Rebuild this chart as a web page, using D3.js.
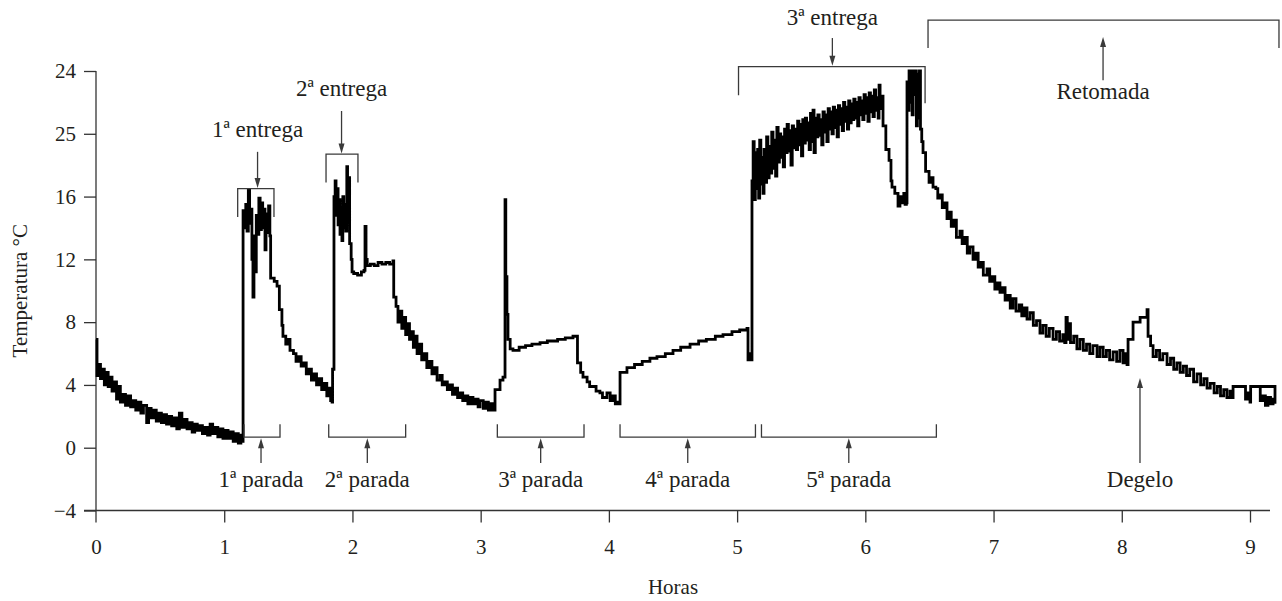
<!DOCTYPE html>
<html>
<head>
<meta charset="utf-8">
<script src="https://cdn.jsdelivr.net/npm/d3@7/dist/d3.min.js"></script>
<style>
  html, body { margin: 0; padding: 0; background: #fff; }
  svg { display: block; }
  text { font-family: "Liberation Serif", "DejaVu Serif", serif; fill: #231f20; }
</style>
</head>
<body>
<svg id="chart" width="1282" height="601"></svg>
<script>
// ---------------- DATA ----------------
const xTicks = [0, 1, 2, 3, 4, 5, 6, 7, 8, 9];
const yTicks = [-4, 0, 4, 8, 12, 16, 20, 24];
const yTickLabels = ["\u22124", "0", "4", "8", "12", "16", "25", "24"];

const hours = [
  0.000,0.008,0.020,0.035,0.050,0.065,0.080,0.095,0.110,0.125,0.140,0.160,0.175,0.190,0.210,0.230,0.250,0.270,0.290,0.310,
  0.330,0.350,0.370,0.395,0.410,0.430,0.450,0.470,0.490,0.510,0.530,0.550,0.570,0.590,0.610,0.630,0.650,0.670,0.690,0.710,
  0.730,0.750,0.770,0.790,0.810,0.830,0.850,0.870,0.890,0.910,0.930,0.950,0.970,0.990,1.010,1.030,1.050,1.070,1.090,1.110,
  1.130,1.145,
  1.147,1.158,1.168,1.178,1.188,1.198,1.208,1.216,1.224,1.232,1.240,1.250,1.260,1.270,1.280,1.290,1.300,1.310,1.318,1.326,
  1.336,1.346,1.356,1.362,1.390,1.412,1.430,1.450,1.458,1.480,1.500,1.513,1.540,1.560,1.580,1.600,1.620,1.640,1.660,1.680,
  1.700,1.720,1.740,1.760,1.780,1.800,1.815,1.830,1.841,
  1.845,1.852,1.856,1.865,1.872,1.880,1.888,1.895,1.903,1.910,1.918,1.925,1.932,1.940,1.948,1.956,1.962,1.970,1.978,1.990,
  1.997,2.010,2.040,2.070,2.090,2.098,2.106,2.115,2.140,2.170,2.200,2.230,2.260,2.290,2.316,2.322,2.340,2.355,2.371,2.385,
  2.400,2.415,2.430,2.445,2.460,2.475,2.490,2.504,2.520,2.540,2.560,2.580,2.600,2.620,2.640,2.660,2.683,2.700,2.720,2.740,
  2.760,2.780,2.800,2.820,2.839,2.860,2.880,2.900,2.920,2.940,2.960,2.980,2.995,3.020,3.040,3.060,3.080,3.096,3.112,3.151,
  3.174,3.190,3.196,3.205,3.213,3.230,3.252,3.300,3.350,3.400,3.463,3.520,3.600,3.660,3.720,3.748,3.755,3.780,3.798,3.830,
  3.850,3.876,3.900,3.930,3.950,3.985,4.010,4.030,4.050,4.063,4.075,4.087,4.141,4.200,4.260,4.320,4.375,4.440,4.500,4.560,
  4.633,4.700,4.760,4.830,4.890,4.960,5.020,5.077,5.085,5.100,5.110,
  5.116,5.125,5.133,5.142,5.150,5.160,5.168,5.176,5.185,5.194,5.202,5.210,5.220,5.230,5.240,5.250,5.260,5.270,5.280,5.290,
  5.300,5.310,5.320,5.330,5.340,5.350,5.360,5.370,5.380,5.390,5.400,5.410,5.420,5.430,5.440,5.452,5.462,5.472,5.482,5.492,
  5.502,5.512,5.522,5.532,5.542,5.552,5.562,5.572,5.582,5.592,5.600,5.610,5.620,5.630,5.640,5.650,5.660,5.670,5.680,5.690,
  5.700,5.710,5.720,5.730,5.740,5.750,5.760,5.770,5.780,5.790,5.800,5.810,5.820,5.830,5.840,5.850,5.860,5.870,5.880,5.890,
  5.900,5.910,5.920,5.930,5.940,5.950,5.960,5.970,5.980,5.990,6.000,6.010,6.020,6.030,6.040,6.050,6.060,6.070,6.080,6.090,
  6.100,6.107,6.115,6.125,6.138,6.160,6.185,6.200,6.208,6.230,6.255,6.270,6.285,6.300,6.310,6.320,6.325,6.333,6.341,6.349,
  6.357,6.365,6.373,6.381,6.390,6.398,6.406,6.414,6.422,6.430,6.440,6.450,6.470,6.497,6.510,6.528,6.550,6.565,6.583,6.600,
  6.620,6.637,6.655,6.670,6.690,6.710,6.738,6.755,6.775,6.795,6.815,6.840,6.860,6.880,6.900,6.920,6.949,6.970,6.990,7.010,
  7.030,7.050,7.070,7.090,7.110,7.130,7.152,7.175,7.200,7.220,7.240,7.261,7.285,7.310,7.335,7.362,7.385,7.410,7.435,7.464,
  7.490,7.515,7.540,7.555,7.565,7.575,7.585,7.600,7.625,7.650,7.674,7.700,7.725,7.750,7.775,7.807,7.830,7.855,7.880,7.905,
  7.932,7.960,7.985,8.010,8.030,8.041,8.049,8.088,8.143,8.197,8.205,8.225,8.244,8.270,8.295,8.320,8.353,8.380,8.405,8.430,
  8.455,8.480,8.505,8.530,8.560,8.587,8.615,8.640,8.665,8.690,8.720,8.745,8.770,8.795,8.820,8.844,8.866,8.868,8.960,8.965,
  8.985,9.000,9.005,9.075,9.080,9.100,9.120,9.140,9.160,9.180,9.195,9.195,9.080
];
const temps = [
  6.9,4.6,5.3,4.4,5.0,4.0,4.8,3.9,4.5,3.6,4.2,3.1,3.9,2.9,3.4,2.7,3.3,2.6,3.0,2.4,
  2.9,2.2,2.7,1.6,2.5,1.9,2.4,1.7,2.2,1.6,2.1,1.5,2.0,1.4,1.9,1.2,2.2,1.3,1.8,1.2,
  1.6,1.0,1.5,1.1,1.4,0.9,1.3,0.8,1.5,0.9,1.3,0.7,1.2,0.6,1.1,0.6,1.0,0.4,0.9,0.3,
  0.8,0.4,
  15.1,14.0,15.5,13.8,16.4,14.3,15.2,12.0,9.6,13.5,11.2,14.8,13.6,15.9,13.9,15.6,14.0,15.2,12.6,14.9,
  13.7,15.4,13.5,10.8,10.6,10.3,8.8,7.8,7.1,6.6,6.9,6.2,6.0,5.5,5.8,5.2,5.4,4.7,5.0,4.3,
  4.7,4.0,4.4,3.7,4.1,3.3,3.8,3.0,2.9,
  5.0,5.0,16.0,17.0,14.8,16.5,14.2,15.8,13.6,15.2,13.2,16.0,14.0,15.5,13.8,17.9,14.5,17.2,13.0,12.0,
  11.2,11.1,11.0,11.2,11.3,14.1,12.0,11.6,11.7,11.6,11.8,11.7,11.8,11.7,11.9,9.6,9.0,8.0,8.7,7.6,
  8.3,7.2,7.9,6.9,7.4,6.4,7.1,6.0,6.6,5.6,6.0,5.1,5.5,4.7,5.1,4.3,4.6,4.0,4.2,3.7,
  4.0,3.4,3.8,3.2,3.5,3.0,3.3,2.8,3.2,2.8,3.1,2.6,3.0,2.5,2.9,2.4,2.8,2.4,3.7,4.3,
  4.5,15.8,10.9,8.5,6.9,6.3,6.2,6.4,6.5,6.6,6.7,6.8,6.9,7.0,7.1,7.1,5.4,4.8,4.5,4.2,
  3.9,3.9,3.6,3.5,3.2,3.5,3.0,3.3,2.8,2.9,2.8,4.8,5.1,5.3,5.5,5.7,5.8,6.0,6.2,6.4,
  6.6,6.8,6.9,7.1,7.2,7.4,7.5,7.6,5.6,6.0,5.6,
  17.0,19.5,15.8,18.8,16.5,19.0,15.9,19.6,16.8,18.5,16.2,19.0,16.9,19.8,17.2,19.2,17.5,20.1,17.8,19.6,
  17.3,20.4,18.2,20.0,18.5,19.8,17.9,20.3,18.8,20.6,18.9,20.2,18.0,20.5,19.1,20.3,19.0,20.8,19.3,20.6,
  18.6,20.9,19.4,21.0,19.6,20.7,19.0,21.3,19.5,21.5,18.8,21.0,19.8,21.2,19.9,20.9,19.3,21.4,20.1,21.2,
  19.5,21.6,20.3,21.4,20.0,21.7,20.4,21.5,19.8,21.8,20.6,21.6,20.2,22.0,20.8,21.7,20.3,22.1,20.7,21.9,
  20.9,22.2,21.0,22.0,20.5,22.3,21.2,22.1,20.9,22.5,21.3,22.3,20.8,22.6,21.4,22.4,21.1,22.8,21.5,22.3,
  21.0,23.1,21.6,22.4,20.5,19.0,18.3,17.0,16.6,16.2,15.4,16.0,15.6,16.2,15.5,15.6,23.3,21.5,24.0,22.0,
  24.0,21.2,24.0,22.5,24.0,20.5,23.8,21.0,24.0,20.3,19.5,18.8,17.6,16.9,17.2,16.6,16.5,15.9,16.1,15.3,
  15.6,14.6,15.0,14.1,14.5,13.4,13.8,13.0,13.4,12.4,12.8,12.0,12.4,11.5,11.8,11.0,11.4,10.6,10.9,10.1,
  10.5,9.9,10.2,9.4,9.7,8.9,9.5,8.7,9.1,8.4,8.9,8.2,8.6,7.8,8.1,7.3,7.8,7.1,7.6,6.9,
  7.4,6.8,7.2,6.7,8.3,6.9,7.9,6.7,7.1,6.3,6.9,6.2,6.6,6.0,6.5,5.8,6.4,5.8,6.2,5.6,
  6.1,5.5,6.2,5.4,6.0,5.3,6.9,8.0,8.3,8.8,7.1,6.5,5.8,6.2,5.6,6.0,5.3,5.7,5.0,5.4,
  4.8,5.2,4.6,5.0,4.2,4.7,4.0,4.4,3.8,4.1,3.5,3.9,3.3,3.7,3.2,3.6,3.2,3.9,3.9,3.1,
  3.5,2.9,3.9,3.9,3.0,3.3,2.7,3.2,2.8,3.1,2.8,3.9,3.9
];

const entregaLabels = ["1\u00aa entrega", "2\u00aa entrega", "3\u00aa entrega"];
const paradaLabels = ["1\u00aa parada", "2\u00aa parada", "3\u00aa parada", "4\u00aa parada", "5\u00aa parada"];
const otherLabels = ["Retomada", "Degelo"];
const xTitle = "Horas";
const yTitle = "Temperatura \u00b0C";

// ---------------- CHART ----------------
const svg = d3.select("#chart");
const x = d3.scaleLinear().domain([0, 9.156]).range([96, 1270]);
const y = d3.scaleLinear().domain([-4, 24]).range([510.5, 71]);

const TICK_FONT = 21;
const TITLE_FONT = 21;
const ANNO_FONT = 23;
const ink = "#231f20";
const annoColor = "#3a3a3a";

// axes
const xAxis = d3.axisBottom(x).tickValues(xTicks).tickSize(12).tickPadding(17).tickFormat(d3.format("d"));
const gx = svg.append("g").attr("transform", `translate(0,${y(-4)})`).call(xAxis);

const yAxis = d3.axisLeft(y).tickValues(yTicks).tickSize(12).tickPadding(8)
  .tickFormat((d, i) => yTickLabels[i]);
const gy = svg.append("g").attr("transform", `translate(${x(0)},0)`).call(yAxis);
gy.select(".domain").attr("d", `M0,${y(24)}V${y(-4) + 12}`);
gx.select(".domain").attr("d", `M${-12 + x(0)},0H${x.range()[1]}`);

[gx, gy].forEach(g => {
  g.selectAll(".domain, .tick line").attr("stroke", "#333").attr("stroke-width", 1.3);
  g.selectAll("text").style("font-size", TICK_FONT + "px").attr("fill", ink);
});
gx.selectAll(".tick").filter(d => d === 0).select("line").remove();

// axis titles
svg.append("text").attr("x", (x(0) + x.range()[1]) / 2 - 10).attr("y", 594)
  .attr("text-anchor", "middle").style("font-size", TITLE_FONT + "px").text(xTitle);
svg.append("text").attr("transform", `translate(27,${(y(24) + y(-4)) / 2}) rotate(-90)`)
  .attr("text-anchor", "middle").style("font-size", TITLE_FONT + "px").text(yTitle);

// data line
const pts = hours.map((h, i) => [h, temps[i]]);
const line = d3.line().x(d => x(d[0])).y(d => y(d[1])).curve(d3.curveStepAfter);
svg.append("path").datum(pts).attr("d", line)
  .attr("fill", "none").attr("stroke", "#000").attr("stroke-width", 2.8)
  .attr("stroke-linejoin", "miter").attr("stroke-miterlimit", 2);

// annotation helpers
const anno = svg.append("g").attr("stroke", annoColor).attr("stroke-width", 1.3).attr("fill", "none");
function bracketDown(t0, t1, top, leg0, leg1) {
  anno.append("path").attr("d",
    `M${x(t0)},${y(leg0)}V${y(top)}H${x(t1)}V${y(leg1)}`);
}
function bracketUp(t0, t1, bottom, leg) {
  anno.append("path").attr("d",
    `M${x(t0)},${y(leg)}V${y(bottom)}H${x(t1)}V${y(leg)}`);
}
function arrow(t, from, to) {
  const x0 = x(t), y0 = y(from), y1 = y(to);
  const dir = y1 > y0 ? 1 : -1;
  anno.append("path").attr("d", `M${x0},${y0}V${y1 - dir * 7}`);
  svg.append("path").attr("d",
    `M${x0},${y1}L${x0 - 3},${y1 - dir * 10}L${x0 + 3},${y1 - dir * 10}Z`)
    .attr("fill", annoColor);
}
function label(t, temp, txt) {
  svg.append("text").attr("x", x(t)).attr("y", y(temp)).attr("text-anchor", "middle")
    .style("font-size", ANNO_FONT + "px").text(txt);
}

// entregas
bracketDown(1.105, 1.388, 16.5, 14.7, 14.7);
arrow(1.26, 18.85, 16.55);
label(1.26, 19.8, entregaLabels[0]);

bracketDown(1.794, 2.043, 18.7, 16.9, 16.9);
arrow(1.915, 21.45, 18.75);
label(1.915, 22.4, entregaLabels[1]);

bracketDown(5.011, 6.466, 24.28, 22.46, 21.95);
arrow(5.743, 26.1, 24.33);
label(5.743, 26.9, entregaLabels[2]);

// retomada
bracketDown(6.489, 9.226, 27.24, 25.46, 25.46);
arrow(7.854, 23.41, 26.16);
label(7.854, 22.21, otherLabels[0]);

// paradas
const paradaSpans = [[1.154, 1.435, 1.287], [1.815, 2.415, 2.116], [3.130, 3.806, 3.468], [4.087, 5.143, 4.615], [5.190, 6.554, 5.871]];
paradaSpans.forEach((s, i) => {
  bracketUp(s[0], s[1], 0.68, 1.5);
  arrow(s[2], -0.97, 0.6);
  label(s[2], -2.51, paradaLabels[i]);
});

// degelo
arrow(8.142, -0.97, 4.44);
label(8.142, -2.51, otherLabels[1]);
</script>
</body>
</html>
